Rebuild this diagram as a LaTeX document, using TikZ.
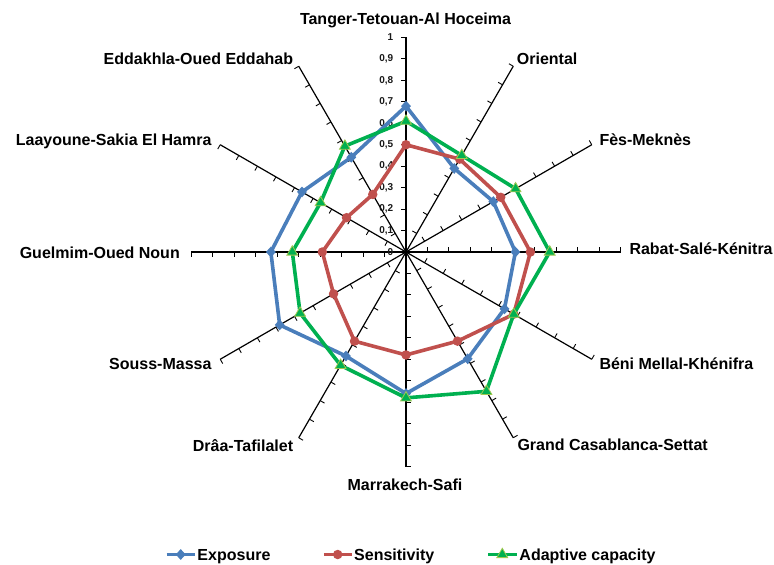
\documentclass[tikz,border=0pt]{standalone}
\usepackage{fontspec}
\setmainfont{Liberation Sans}
\usetikzlibrary{shapes.geometric}
\definecolor{expblue}{RGB}{74, 126, 187}
\definecolor{senred}{RGB}{192, 80, 77}
\definecolor{adagreen}{RGB}{0, 176, 80}
\definecolor{adaedge}{RGB}{160, 200, 80}

\begin{document}
\begin{tikzpicture}[x=1pt, y=1pt,
  spoke/.style={draw=black, line width=1.2pt},
  tick/.style={draw=black, line width=0.9pt},
  regionlabel/.style={font=\fontsize{16}{19}\selectfont\bfseries, inner sep=0pt, text height=11.5pt, text depth=0pt},
  valuelabel/.style={font=\fontsize{10}{11}\selectfont\bfseries, text=black!90, anchor=east, inner sep=0pt},
  expline/.style={draw=expblue, line width=3.6pt, line join=round},
  senline/.style={draw=senred, line width=3.6pt, line join=round},
  adaline/.style={draw=adagreen, line width=3.6pt, line join=round},
  expmark/.style={diamond, fill=expblue, inner sep=0pt, minimum width=10pt, minimum height=11pt},
  senmark/.style={circle, fill=senred, inner sep=0pt, minimum size=9.5pt},
  adamark/.style={regular polygon, regular polygon sides=3, fill=adagreen, draw=adaedge, line width=0.8pt, inner sep=0pt, minimum size=12.5pt}
]
  \useasboundingbox (-406,-313) rectangle (368,252);
  \clip (-406,-313) rectangle (368,252);

  % spokes with their ticks
  \foreach \a [count=\i] in {90,60,30,0,-30,-60,-90,-120,-150,180,150,120} {
    \coordinate (ax\i) at (\a:214.5);
    \draw[spoke] (0,0) -- (ax\i);
    \foreach \k in {1,...,10}
      \draw[tick] (\a:{\k*21.45}) -- ++({\a+90}:5);
  }

  % value scale
  \foreach \t [count=\k from 0] in {0,{0,1},{0,2},{0,3},{0,4},{0,5},{0,6},{0,7},{0,8},{0,9},1}
    \node[valuelabel] (val\k) at (-12.5,{\k*21.45}) {\t};

  % data points
  \foreach \v [count=\i] in {0.68,0.45,0.47,0.51,0.53,0.575,0.66,0.56,0.68,0.63,0.56,0.51}
    \coordinate (e\i) at ({90-30*(\i-1)}:{\v*214.5});
  \foreach \v [count=\i] in {0.50,0.50,0.51,0.58,0.58,0.48,0.48,0.48,0.39,0.39,0.32,0.31}
    \coordinate (s\i) at ({90-30*(\i-1)}:{\v*214.5});
  \foreach \v [count=\i] in {0.61,0.52,0.59,0.67,0.58,0.75,0.68,0.61,0.57,0.53,0.46,0.57}
    \coordinate (a\i) at ({90-30*(\i-1)}:{\v*214.5});

  \draw[expline] (e1) \foreach \i in {2,...,12} { -- (e\i) } -- cycle;
  \foreach \i in {1,...,12} \node[expmark] (em\i) at (e\i) {};
  \draw[senline] (s1) \foreach \i in {2,...,12} { -- (s\i) } -- cycle;
  \foreach \i in {1,...,12} \node[senmark] (sm\i) at (s\i) {};
  \draw[adaline] (a1) \foreach \i in {2,...,12} { -- (a\i) } -- cycle;
  \foreach \i in {1,...,12} \node[adamark] (am\i) at (a\i) {};

  % region names
  \node[regionlabel] (tanger) at (-0.5,233.7) {Tanger-Tetouan-Al Hoceima};
  \node[regionlabel, anchor=west] (oriental) at (110.7,193.7) {Oriental};
  \node[regionlabel, anchor=west] (fes) at (193.3,112) {Fès-Meknès};
  \node[regionlabel, anchor=west] (rabat) at (223.3,3.5) {Rabat-Salé-Kénitra};
  \node[regionlabel, anchor=west] (beni) at (193.3,-111.3) {Béni Mellal-Khénifra};
  \node[regionlabel, anchor=west] (casa) at (111.3,-193) {Grand Casablanca-Settat};
  \node[regionlabel] (marrakech) at (-1,-233) {Marrakech-Safi};
  \node[regionlabel, anchor=east] (draa) at (-112.7,-194) {Drâa-Tafilalet};
  \node[regionlabel, anchor=east] (souss) at (-194.3,-111.3) {Souss-Massa};
  \node[regionlabel, anchor=east] (guelmim) at (-226,-0.7) {Guelmim-Oued Noun};
  \node[regionlabel, anchor=east] (laayoune) at (-194.3,112) {Laayoune-Sakia El Hamra};
  \node[regionlabel, anchor=east] (eddakhla) at (-112.7,193.7) {Eddakhla-Oued Eddahab};

  % legend
  \coordinate (lgE1) at (-239.3,-302.5);
  \coordinate (lgE2) at (-211,-302.5);
  \draw[expline, line width=3pt] (lgE1) -- (lgE2);
  \node[expmark] (lgEm) at (-225.3,-302.5) {};
  \node[regionlabel, anchor=west] (lgEt) at (-208.7,-302.5) {Exposure};

  \coordinate (lgS1) at (-82,-302.5);
  \coordinate (lgS2) at (-54.3,-302.5);
  \draw[senline, line width=3pt] (lgS1) -- (lgS2);
  \node[senmark] (lgSm) at (-68.3,-302.5) {};
  \node[regionlabel, anchor=west] (lgSt) at (-52,-302.5) {Sensitivity};

  \coordinate (lgA1) at (82.3,-302.5);
  \coordinate (lgA2) at (110.7,-302.5);
  \draw[adaline, line width=3pt] (lgA1) -- (lgA2);
  \node[adamark] (lgAm) at (96.3,-302.5) {};
  \node[regionlabel, anchor=west] (lgAt) at (113.3,-302.5) {Adaptive capacity};
\end{tikzpicture}
\end{document}
